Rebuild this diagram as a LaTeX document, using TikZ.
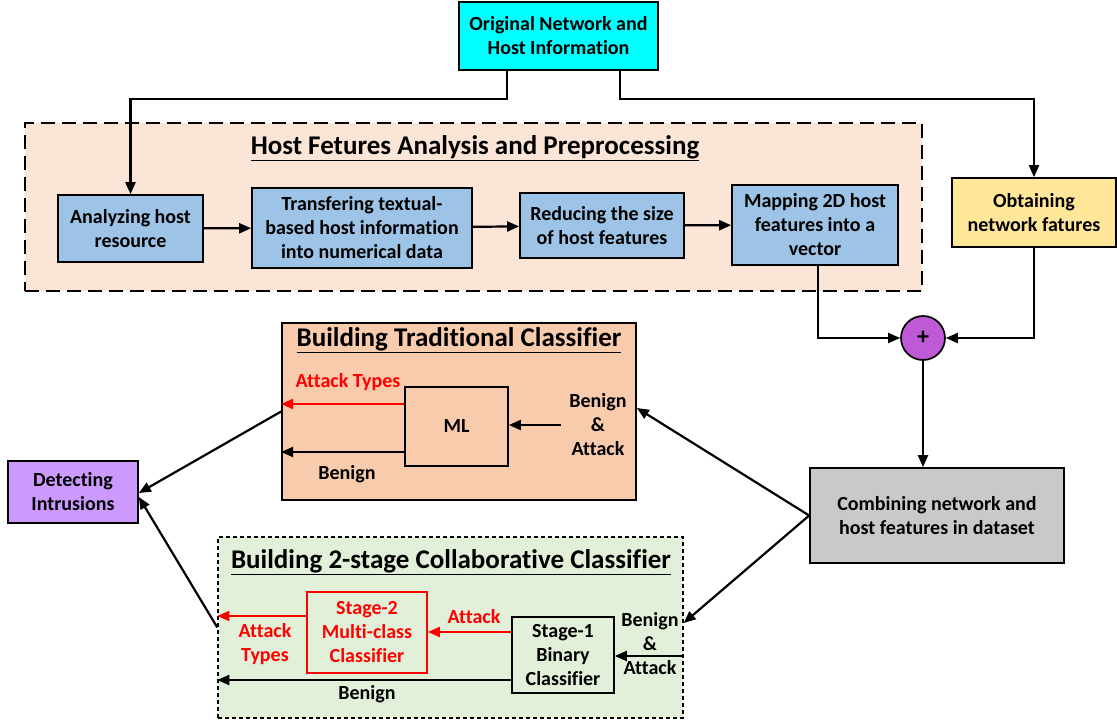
\documentclass[tikz,border=0pt]{standalone}
\usepackage{fontspec}
\setmainfont{Carlito}[Ligatures=NoCommon]
\usetikzlibrary{arrows.meta}
\definecolor{cyanbox}{RGB}{0,255,255}
\definecolor{bluebox}{RGB}{157,195,230}
\definecolor{yellowbox}{RGB}{255,230,153}
\definecolor{peach}{RGB}{251,229,214}
\definecolor{orangebox}{RGB}{248,203,173}
\definecolor{greenbox}{RGB}{226,240,217}
\definecolor{graybox}{RGB}{201,201,201}
\definecolor{plum}{RGB}{191,90,214}
\definecolor{lavender}{RGB}{204,153,255}
\begin{document}
\begin{tikzpicture}[x=1pt,y=-1pt,
  every node/.style={font=\bfseries\fontsize{20}{24}\selectfont},
  box/.style={draw, line width=1.7pt, align=center, inner sep=0pt},
  arr/.style={-{Triangle[length=12pt,width=10pt]}, line width=2.2pt},
  lbl/.style={align=center, inner sep=0pt},
  ttl/.style={font=\bfseries\fontsize{27}{31}\selectfont, inner sep=0pt}]
\useasboundingbox (0,0) rectangle (1117,725);
% host features group
\node[box, fill=peach, dash pattern=on 14pt off 7pt, line width=2.4pt, minimum width=897pt, minimum height=168pt] (hostbg) at (473.5,207) {};
\node[ttl] (hosttitle) at (475,148) {\underline{Host Fetures Analysis and Preprocessing}};
\node[box, fill=cyanbox, minimum width=199pt, minimum height=68pt] (top) at (558.5,36) {Original Network and\\Host Information};
\node[box, fill=bluebox, minimum width=145pt, minimum height=67pt] (ana) at (130.5,228.5) {Analyzing host\\resource};
\node[box, fill=bluebox, minimum width=220pt, minimum height=80pt] (tra) at (362,228) {Transfering textual-\\based host information\\into numerical data};
\node[box, fill=bluebox, minimum width=164pt, minimum height=65pt] (red) at (602,225.5) {Reducing the size\\of host features};
\node[box, fill=bluebox, minimum width=166pt, minimum height=80pt] (map) at (815,225) {Mapping 2D host\\features into a\\vector};
\node[box, fill=yellowbox, minimum width=164pt, minimum height=69pt] (obt) at (1034,212.5) {Obtaining\\network fatures};
\node[box, circle, fill=plum, minimum size=44pt, font=\bfseries\fontsize{24}{28}\selectfont] (plus) at (923,338) {+};
\node[box, fill=graybox, minimum width=254pt, minimum height=95pt] (comb) at (937,515.5) {Combining network and\\host features in dataset};
% traditional classifier
\node[box, fill=orangebox, minimum width=354pt, minimum height=177pt] (trad) at (459,411.5) {};
\node[ttl] (tradtitle) at (459,340) {\underline{Building Traditional Classifier}};
\node[box, fill=orangebox, minimum width=103pt, minimum height=79pt] (ml) at (456.5,426.5) {ML};
\node[lbl, red] (at1) at (348,382) {Attack Types};
\node[lbl] (ben1) at (347,474) {Benign};
\node[lbl] (ba1) at (598,425) {Benign\\\&\\Attack};
% detecting
\node[box, fill=lavender, minimum width=130pt, minimum height=62pt] (det) at (73,492) {Detecting\\Intrusions};
% collaborative classifier
\node[box, fill=greenbox, dash pattern=on 4pt off 3pt, line width=1.4pt, minimum width=465pt, minimum height=181pt] (coll) at (450.5,627.5) {};
\node[ttl] (colltitle) at (451,562) {\underline{Building 2-stage Collaborative Classifier}};
\node[box, draw=red, text=red, fill=greenbox, minimum width=120pt, minimum height=81pt] (s2) at (367,632.5) {Stage-2\\Multi-class\\Classifier};
\node[box, fill=greenbox, minimum width=102pt, minimum height=76pt] (s1) at (563,655) {Stage-1\\Binary\\Classifier};
\node[lbl, red] (atk) at (474,617) {Attack};
\node[lbl, red] (at2) at (265,644) {Attack\\Types};
\node[lbl] (ben2) at (367,694) {Benign};
\node[lbl] (ba2) at (650,644) {Benign\\\&\\Attack};
% connectors
\draw[arr] ([xshift=-51.5pt]top.south) -- ++(0,28) -| (ana.north);
\draw[arr] ([xshift=61.5pt]top.south) -- ++(0,28) -| (obt.north);
\draw[arr] (ana) -- (tra);
\draw[arr] (tra) -- (red);
\draw[arr] (red) -- (map);
\draw[arr] ([xshift=3pt]map.south) |- (plus.west);
\draw[arr] (obt.south) |- (plus.east);
\draw[arr] (plus) -- (comb.north -| plus);
\draw[arr] (comb.west) -- ([yshift=3.5pt]trad.east);
\draw[arr] (comb.west) -- ([yshift=4.5pt]coll.east);
\draw[arr] (trad.west) -- ([yshift=-1pt]det.east);
\draw[arr] (coll.west) -- ([yshift=-5pt]det.east);
\draw[arr, red] ([yshift=22.5pt]ml.west) -- ([yshift=22.5pt]ml.west -| trad.west);
\draw[arr] ([yshift=-25.5pt]ml.west) -- ([yshift=-25.5pt]ml.west -| trad.west);
\draw[arr] ([xshift=-8pt]ba1.west) -- (ml.east |- ba1.west);
\draw[arr, red] ([yshift=23pt]s1.west) -- ([yshift=23pt]s1.west -| s2.east);
\draw[arr, red] ([yshift=16.5pt]s2.west) -- ([yshift=16.5pt]s2.west -| coll.west);
\draw[arr] ([yshift=-25pt]s1.west) -- ([yshift=-25pt]s1.west -| coll.west);
\draw[arr] ([yshift=-28.5pt]coll.east) -- ([yshift=-28.5pt]coll.east -| s1.east);
\end{tikzpicture}
\end{document}
